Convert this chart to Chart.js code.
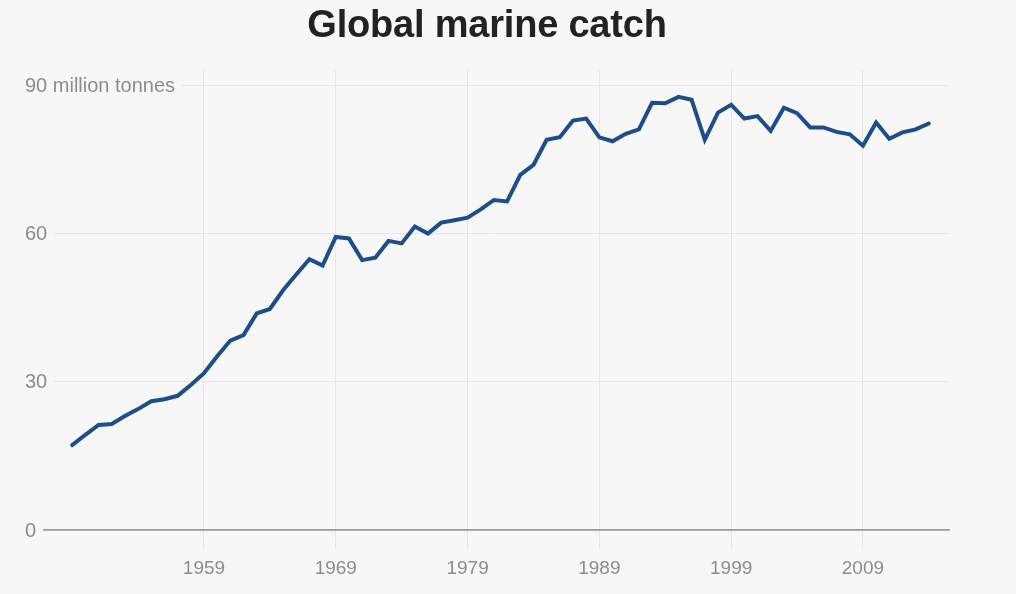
<!DOCTYPE html>
<html>
<head>
<meta charset="utf-8">
<script src="https://cdn.jsdelivr.net/npm/chart.js@4"></script>
<style>
  html, body { margin: 0; padding: 0; background: #f7f7f7; }
  #wrap { position: relative; width: 1016px; height: 594px; overflow: hidden; }
  #title { position: absolute; left: 0; top: 5px; width: 974px; text-align: center;
           font-family: 'Liberation Sans', Arial, sans-serif; font-weight: bold; font-size: 38px;
           line-height: 38px; color: #222; letter-spacing: -0.2px; }
  canvas { position: absolute; left: 0; top: 0; }
</style>
</head>
<body>
<div id="wrap">
  <canvas id="c" width="1016" height="594"></canvas>
  <div id="title">Global marine catch</div>
</div>
<script>
const years = [1949,1950,1951,1952,1953,1954,1955,1956,1957,1958,
  1959,1960,1961,1962,1963,1964,1965,1966,1967,1968,
  1969,1970,1971,1972,1973,1974,1975,1976,1977,1978,
  1979,1980,1981,1982,1983,1984,1985,1986,1987,1988,
  1989,1990,1991,1992,1993,1994,1995,1996,1997,1998,
  1999,2000,2001,2002,2003,2004,2005,2006,2007,2008,
  2009,2010,2011,2012,2013,2014];
const catchMt = [17.2,19.3,21.3,21.5,23.1,24.5,26.1,26.5,27.2,29.4,
  31.8,35.2,38.4,39.5,43.9,44.8,48.6,51.8,54.9,53.6,
  59.4,59.1,54.7,55.2,58.6,58.1,61.5,60.1,62.3,62.8,
  63.3,65.0,66.9,66.6,72.0,74.0,79.1,79.6,83.0,83.4,
  79.6,78.8,80.3,81.2,86.6,86.5,87.8,87.2,79.1,84.6,
  86.2,83.4,83.9,80.9,85.6,84.5,81.6,81.6,80.7,80.2,
  77.9,82.6,79.3,80.6,81.2,82.4];
const xTickYears = [1959,1969,1979,1989,1999,2009];
const yTickValues = [0,30,60,90];
const yTickLabels = ['0','30','60','90 million tonnes'];

const BG = '#f7f7f7';
const TEXT = '#8c8c8c';
const FONT = "'Liberation Sans', Arial, sans-serif";

const bgPlugin = {
  id: 'bg',
  beforeDraw(chart) {
    const ctx = chart.ctx;
    ctx.save();
    ctx.fillStyle = BG;
    ctx.fillRect(0, 0, chart.width, chart.height);
    ctx.restore();
  }
};

const yLabelPlugin = {
  id: 'yLabels',
  afterDraw(chart) {
    const ctx = chart.ctx;
    const ys = chart.scales.y;
    ctx.save();
    ctx.font = '20px ' + FONT;
    ctx.textAlign = 'left';
    ctx.textBaseline = 'alphabetic';
    yTickValues.forEach((v, i) => {
      const py = ys.getPixelForValue(v);
      const label = yTickLabels[i];
      const w = ctx.measureText(label).width;
      ctx.fillStyle = BG;
      ctx.fillRect(20, py - 14, w + 12, 26);
      ctx.fillStyle = TEXT;
      ctx.fillText(label, 25, py + 6.5);
    });
    ctx.restore();
  }
};

new Chart(document.getElementById('c'), {
  type: 'line',
  data: {
    datasets: [{
      data: years.map((y, i) => ({ x: y, y: catchMt[i] })),
      borderColor: '#1d4e89',
      borderWidth: 4,
      pointRadius: 0,
      pointHoverRadius: 0,
      tension: 0,
      fill: false,
      borderCapStyle: 'round',
      borderJoinStyle: 'miter'
    }]
  },
  options: {
    responsive: false,
    animation: false,
    events: [],
    layout: { padding: { left: 42, right: 67, top: 70, bottom: 0 } },
    plugins: { legend: { display: false }, tooltip: { enabled: false }, title: { display: false } },
    scales: {
      x: {
        type: 'linear',
        min: 1946.71,
        max: 2015.53,
        afterBuildTicks(scale) { scale.ticks = xTickYears.map(v => ({ value: v })); },
        afterFit(scale) { scale.height = 64; },
        grid: { color: '#e6e6e6', lineWidth: 1, drawTicks: true, tickLength: 18, tickColor: '#e6e6e6' },
        border: { display: true, color: '#999999', width: 1.5 },
        ticks: {
          color: TEXT,
          font: { family: FONT, size: 19 },
          padding: 9,
          maxRotation: 0,
          callback: (v) => String(v)
        }
      },
      y: {
        min: 0,
        max: 93.24,
        afterBuildTicks(scale) { scale.ticks = yTickValues.map(v => ({ value: v })); },
        afterFit(scale) { scale.width = 0; },
        grid: { color: (c) => c.tick && c.tick.value === 0 ? '#999999' : '#e6e6e6', lineWidth: (c) => c.tick && c.tick.value === 0 ? 1.5 : 1, drawTicks: false },
        border: { display: false },
        ticks: { display: false }
      }
    }
  },
  plugins: [bgPlugin, yLabelPlugin]
});
</script>
</body>
</html>
